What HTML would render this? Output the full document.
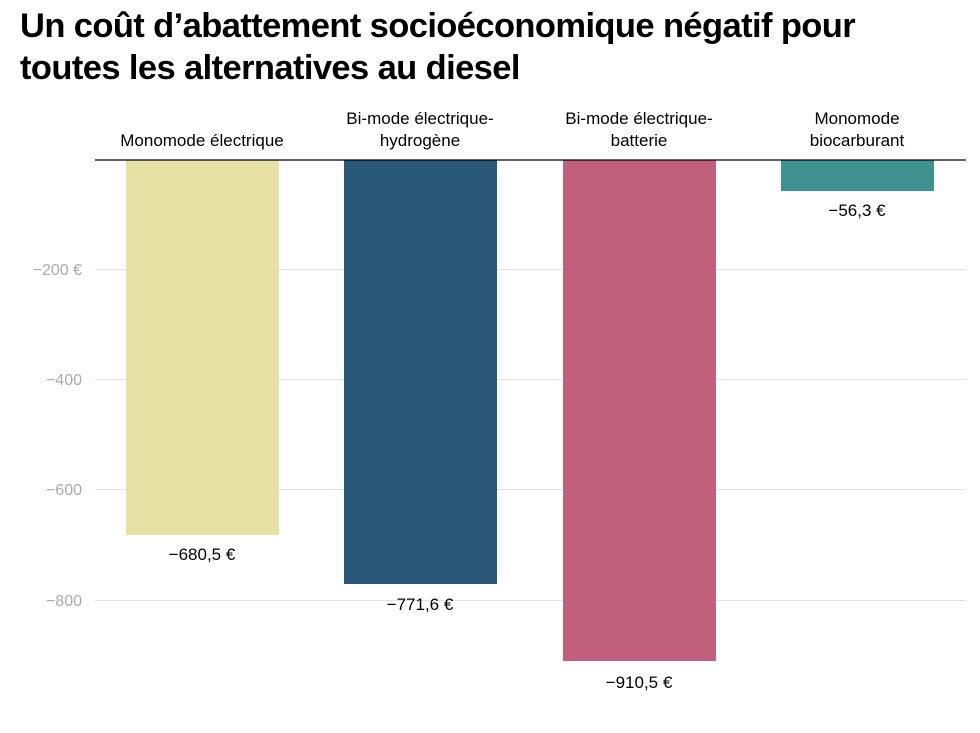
<!DOCTYPE html>
<html><head><meta charset="utf-8"><style>
body{margin:0;background:#fff;width:980px;height:733px;overflow:hidden;font-family:"Liberation Sans",sans-serif}
h1{position:absolute;left:20px;top:5px;margin:0;font-size:34.5px;line-height:42px;font-weight:bold;color:#000;letter-spacing:-0.6px;white-space:nowrap}
</style></head><body>
<h1>Un coût d’abattement socioéconomique négatif pour<br>toutes les alternatives au diesel</h1>
<svg width="980" height="733" style="position:absolute;left:0;top:0" font-family="Liberation Sans, sans-serif">
<g stroke="#e2e2e2" stroke-width="1">
<line x1="95" x2="966" y1="269.5" y2="269.5"/>
<line x1="95" x2="966" y1="379.5" y2="379.5"/>
<line x1="95" x2="966" y1="489.5" y2="489.5"/>
<line x1="95" x2="966" y1="600.5" y2="600.5"/>
</g>
<g fill="#aaa" font-size="16" text-anchor="end">
<text x="82" y="275">−200 €</text>
<text x="82" y="385">−400</text>
<text x="82" y="495">−600</text>
<text x="82" y="606">−800</text>
</g>
<rect x="126" y="160" width="153" height="375" fill="#e8e1a6"/>
<rect x="344" y="160" width="153" height="424" fill="#285777"/>
<rect x="563" y="160" width="153" height="501" fill="#c1607d"/>
<rect x="781" y="160" width="153" height="31" fill="#3f9290"/>
<line x1="95" x2="966" y1="160" y2="160" stroke="#000" stroke-width="1.3"/>
<g font-size="17" text-anchor="middle" fill="#000">
<text x="202" y="146">Monomode électrique</text>
<text x="420" y="124">Bi-mode électrique-</text>
<text x="420" y="146">hydrogène</text>
<text x="639" y="124">Bi-mode électrique-</text>
<text x="639" y="146">batterie</text>
<text x="857" y="124">Monomode</text>
<text x="857" y="146">biocarburant</text>
<text x="202" y="560">−680,5 €</text>
<text x="420" y="610">−771,6 €</text>
<text x="639" y="688">−910,5 €</text>
<text x="857" y="216">−56,3 €</text>
</g>
</svg>
</body></html>
